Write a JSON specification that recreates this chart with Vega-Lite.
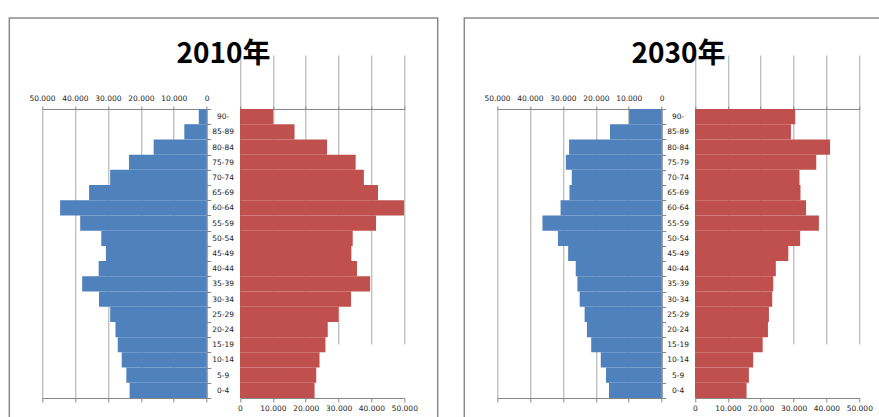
{
  "$schema": "https://vega.github.io/schema/vega-lite/v6.json",
  "background": "white",
  "padding": {"left": 8.3, "top": 13, "right": -12, "bottom": -14},
  "spacing": 24,
  "config": {
    "view": {"stroke": "#8a8a8a", "strokeWidth": 1.5},
    "axis": {
      "labelFont": "DejaVu Sans",
      "labelFontSize": 7.5,
      "labelColor": "#222222",
      "domainColor": "#868686",
      "tickColor": "#868686",
      "gridColor": "#a8a8a8",
      "title": null
    }
  },
  "data": {
    "values": [
      {"year": 2010, "age": "90-", "male": 2400, "female": 10100},
      {"year": 2010, "age": "85-89", "male": 6800, "female": 16600},
      {"year": 2010, "age": "80-84", "male": 16100, "female": 26500},
      {"year": 2010, "age": "75-79", "male": 23600, "female": 35200},
      {"year": 2010, "age": "70-74", "male": 29300, "female": 37700},
      {"year": 2010, "age": "65-69", "male": 35700, "female": 42000},
      {"year": 2010, "age": "60-64", "male": 44500, "female": 49900},
      {"year": 2010, "age": "55-59", "male": 38400, "female": 41400},
      {"year": 2010, "age": "50-54", "male": 32000, "female": 34300},
      {"year": 2010, "age": "45-49", "male": 30600, "female": 33900},
      {"year": 2010, "age": "40-44", "male": 32800, "female": 35600},
      {"year": 2010, "age": "35-39", "male": 37800, "female": 39600},
      {"year": 2010, "age": "30-34", "male": 32700, "female": 33800},
      {"year": 2010, "age": "25-29", "male": 29300, "female": 30000},
      {"year": 2010, "age": "20-24", "male": 27700, "female": 26700},
      {"year": 2010, "age": "15-19", "male": 27000, "female": 26000},
      {"year": 2010, "age": "10-14", "male": 25800, "female": 24200},
      {"year": 2010, "age": "5-9", "male": 24400, "female": 23200},
      {"year": 2010, "age": "0-4", "male": 23400, "female": 22700},
      {"year": 2030, "age": "90-", "male": 9900, "female": 30500},
      {"year": 2030, "age": "85-89", "male": 15700, "female": 29200},
      {"year": 2030, "age": "80-84", "male": 28100, "female": 41100},
      {"year": 2030, "age": "75-79", "male": 29100, "female": 36900},
      {"year": 2030, "age": "70-74", "male": 27300, "female": 31800},
      {"year": 2030, "age": "65-69", "male": 28000, "female": 32100},
      {"year": 2030, "age": "60-64", "male": 30700, "female": 33800},
      {"year": 2030, "age": "55-59", "male": 36200, "female": 37700},
      {"year": 2030, "age": "50-54", "male": 31500, "female": 32000},
      {"year": 2030, "age": "45-49", "male": 28400, "female": 28400},
      {"year": 2030, "age": "40-44", "male": 26100, "female": 24600},
      {"year": 2030, "age": "35-39", "male": 25600, "female": 23800},
      {"year": 2030, "age": "30-34", "male": 24900, "female": 23500},
      {"year": 2030, "age": "25-29", "male": 23400, "female": 22500},
      {"year": 2030, "age": "20-24", "male": 22700, "female": 22200},
      {"year": 2030, "age": "15-19", "male": 21400, "female": 20600},
      {"year": 2030, "age": "10-14", "male": 18500, "female": 17700},
      {"year": 2030, "age": "5-9", "male": 16900, "female": 16400},
      {"year": 2030, "age": "0-4", "male": 16000, "female": 15700}
    ]
  },
  "hconcat": [
    {
      "width": 428.4,
      "height": 417,
      "title": {"text": "2010年", "font": "Noto Sans CJK JP", "fontSize": 28, "fontWeight": "bold", "color": "#000000", "anchor": "middle", "offset": -55},
      "transform": [{"filter": "datum.year == 2010"}],
      "layer": [
        {
          "layer": [
            {
              "mark": {"type": "bar", "color": "#4F81BD"},
              "encoding": {
                "y": {"field": "age", "type": "nominal",
                  "sort": ["90-", "85-89", "80-84", "75-79", "70-74", "65-69", "60-64", "55-59", "50-54", "45-49", "40-44", "35-39", "30-34", "25-29", "20-24", "15-19", "10-14", "5-9", "0-4"],
                  "scale": {"range": [91, 380], "paddingInner": 0, "paddingOuter": 0},
                  "axis": {"orient": "right", "offset": -231, "tickBand": "extent", "tickSize": 4, "labelAlign": "center", "labelPadding": 12, "grid": false}},
                "x": {"field": "male", "type": "quantitative",
                  "scale": {"domain": [0, 50000], "range": [197.4, 32.7], "nice": false},
                  "axis": {"orient": "top", "offset": -91, "values": [0, 10000, 20000, 30000, 40000, 50000], "labelExpr": "replace(format(datum.value, ','), ',', '.')", "grid": true, "tickSize": 3, "labelPadding": 4, "labelFlush": false, "labelOverlap": false}}
              }
            },
            {
              "mark": {"type": "rule", "opacity": 0},
              "encoding": {
                "x": {"field": "male", "type": "quantitative",
                  "axis": {"orient": "bottom", "offset": -37, "values": [0, 10000, 20000, 30000, 40000, 50000], "labels": false, "grid": false, "tickSize": 4}}
              }
            }
          ],
          "resolve": {"axis": {"x": "independent"}}
        },
        {
          "layer": [
            {
              "mark": {"type": "bar", "color": "#C0504D"},
              "encoding": {
                "y": {"field": "age", "type": "nominal",
                  "sort": ["90-", "85-89", "80-84", "75-79", "70-74", "65-69", "60-64", "55-59", "50-54", "45-49", "40-44", "35-39", "30-34", "25-29", "20-24", "15-19", "10-14", "5-9", "0-4"],
                  "scale": {"range": [91, 380], "paddingInner": 0, "paddingOuter": 0},
                  "axis": {"orient": "right", "offset": -231, "tickBand": "extent", "tickSize": 4, "labelAlign": "center", "labelPadding": 12, "grid": false}},
                "x": {"field": "female", "type": "quantitative",
                  "scale": {"domain": [0, 50000], "range": [230.7, 395], "nice": false},
                  "axis": {"orient": "bottom", "offset": -37, "values": [0, 10000, 20000, 30000, 40000, 50000], "labelExpr": "replace(format(datum.value, ','), ',', '.')", "grid": true, "tickSize": 4, "labelPadding": 3, "labelFlush": false, "labelOverlap": false}}
              }
            },
            {
              "mark": {"type": "rule", "opacity": 0},
              "encoding": {
                "x": {"field": "female", "type": "quantitative",
                  "axis": {"orient": "top", "offset": -91, "values": [0, 10000, 20000, 30000, 40000, 50000], "labels": false, "grid": false, "tickSize": 3}}
              }
            }
          ],
          "resolve": {"axis": {"x": "independent"}}
        }
      ],
      "resolve": {"scale": {"x": "independent"}}
    },
    {
      "width": 428.4,
      "height": 417,
      "title": {"text": "2030年", "font": "Noto Sans CJK JP", "fontSize": 28, "fontWeight": "bold", "color": "#000000", "anchor": "middle", "offset": -55},
      "transform": [{"filter": "datum.year == 2030"}],
      "layer": [
        {
          "layer": [
            {
              "mark": {"type": "bar", "color": "#4F81BD"},
              "encoding": {
                "y": {"field": "age", "type": "nominal",
                  "sort": ["90-", "85-89", "80-84", "75-79", "70-74", "65-69", "60-64", "55-59", "50-54", "45-49", "40-44", "35-39", "30-34", "25-29", "20-24", "15-19", "10-14", "5-9", "0-4"],
                  "scale": {"range": [91, 380], "paddingInner": 0, "paddingOuter": 0},
                  "axis": {"orient": "right", "offset": -231, "tickBand": "extent", "tickSize": 4, "labelAlign": "center", "labelPadding": 12, "grid": false}},
                "x": {"field": "male", "type": "quantitative",
                  "scale": {"domain": [0, 50000], "range": [197.4, 32.7], "nice": false},
                  "axis": {"orient": "top", "offset": -91, "values": [0, 10000, 20000, 30000, 40000, 50000], "labelExpr": "replace(format(datum.value, ','), ',', '.')", "grid": true, "tickSize": 3, "labelPadding": 4, "labelFlush": false, "labelOverlap": false}}
              }
            },
            {
              "mark": {"type": "rule", "opacity": 0},
              "encoding": {
                "x": {"field": "male", "type": "quantitative",
                  "axis": {"orient": "bottom", "offset": -37, "values": [0, 10000, 20000, 30000, 40000, 50000], "labels": false, "grid": false, "tickSize": 4}}
              }
            }
          ],
          "resolve": {"axis": {"x": "independent"}}
        },
        {
          "layer": [
            {
              "mark": {"type": "bar", "color": "#C0504D"},
              "encoding": {
                "y": {"field": "age", "type": "nominal",
                  "sort": ["90-", "85-89", "80-84", "75-79", "70-74", "65-69", "60-64", "55-59", "50-54", "45-49", "40-44", "35-39", "30-34", "25-29", "20-24", "15-19", "10-14", "5-9", "0-4"],
                  "scale": {"range": [91, 380], "paddingInner": 0, "paddingOuter": 0},
                  "axis": {"orient": "right", "offset": -231, "tickBand": "extent", "tickSize": 4, "labelAlign": "center", "labelPadding": 12, "grid": false}},
                "x": {"field": "female", "type": "quantitative",
                  "scale": {"domain": [0, 50000], "range": [230.7, 395], "nice": false},
                  "axis": {"orient": "bottom", "offset": -37, "values": [0, 10000, 20000, 30000, 40000, 50000], "labelExpr": "replace(format(datum.value, ','), ',', '.')", "grid": true, "tickSize": 4, "labelPadding": 3, "labelFlush": false, "labelOverlap": false}}
              }
            },
            {
              "mark": {"type": "rule", "opacity": 0},
              "encoding": {
                "x": {"field": "female", "type": "quantitative",
                  "axis": {"orient": "top", "offset": -91, "values": [0, 10000, 20000, 30000, 40000, 50000], "labels": false, "grid": false, "tickSize": 3}}
              }
            }
          ],
          "resolve": {"axis": {"x": "independent"}}
        }
      ],
      "resolve": {"scale": {"x": "independent"}}
    }
  ]
}
